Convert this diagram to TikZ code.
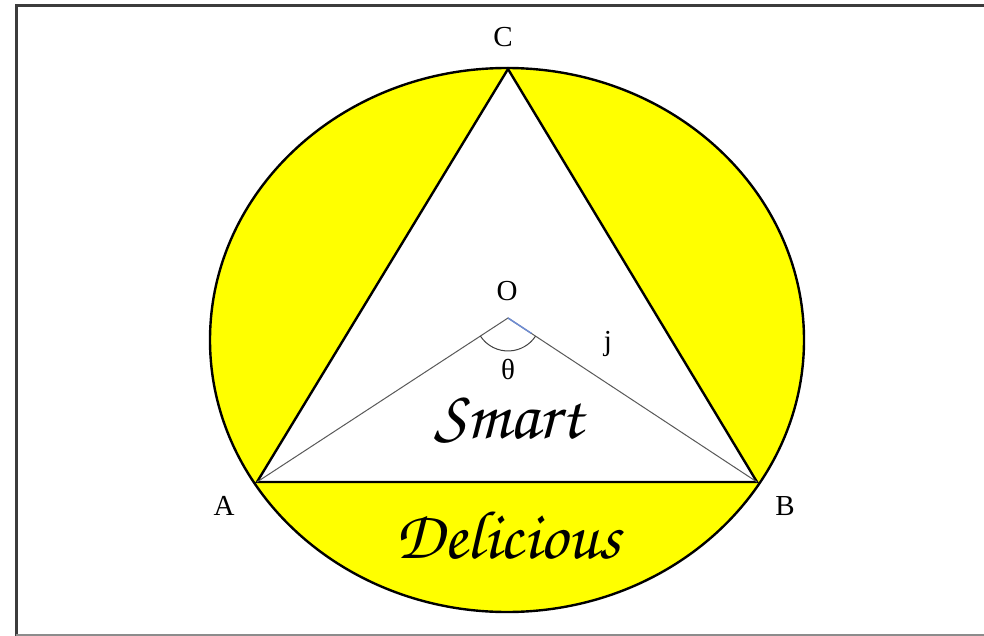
\documentclass[tikz,border=0pt]{standalone}
\usepackage{fontspec}
\usepackage{graphicx}
\usetikzlibrary{calc}
\setmainfont{Liberation Serif}
\newfontfamily\chorus{texgyrechorus-mediumitalic.otf}
\definecolor{fillyellow}{RGB}{255,255,0}
\definecolor{framegray}{RGB}{60,60,60}
\definecolor{tickblue}{RGB}{110,140,210}
\tikzset{
  lbl/.style={font=\fontsize{29}{32}\selectfont, inner sep=0pt},
  thickline/.style={line width=2.4pt, black},
  thinline/.style={line width=1pt, black!65},
}
\begin{document}
\begin{tikzpicture}[x=1pt,y=-1pt]
\useasboundingbox (0,0) rectangle (984,636);
\fill[white] (0,0) rectangle (984,636);
% frame
\draw[line width=3pt, framegray] (16,640) -- (16,6) -- (990,6);
\draw[line width=2pt, black!45] (16,635) -- (990,635);
% points
\coordinate (A) at (257,482);
\coordinate (B) at (757,482);
\coordinate (C) at (508,69);
\coordinate (O) at (508,318);
\coordinate (E) at (507,340);
% circle
\fill[fillyellow] (E) ellipse [x radius=297, y radius=-272];
\fill[white] (A) -- (B) -- (C) -- cycle;
\draw[thickline] (E) ellipse [x radius=297, y radius=-272];
\draw[thickline, line join=miter] (A) -- (B) -- (C) -- cycle;
% radii
\draw[thinline] (A) -- (O) -- (B);
\draw[line width=1.5pt, tickblue] (O) -- ($(O)!28pt!(B)$);
% angle
\draw[line width=1pt, black!75] ($(O)!33pt!(A)$) arc[start angle=213.2, end angle=326.6, radius=33pt];
% labels
\node[lbl] (lC) at (503,37) {C};
\node[lbl] (lO) at (507,291) {O};
\node[lbl] (lj) at (608,344) {j};
\node[lbl] (lt) at (508,370) {θ};
\node[lbl] (lA) at (224,506) {A};
\node[lbl] (lB) at (785,506) {B};
\node[inner sep=0pt] (smart) at (509,421) {\resizebox{148pt}{!}{\chorus Smart}};
\node[inner sep=0pt] (deli) at (508,536) {\resizebox{225pt}{!}{\chorus Delicious}};
\end{tikzpicture}
\end{document}
